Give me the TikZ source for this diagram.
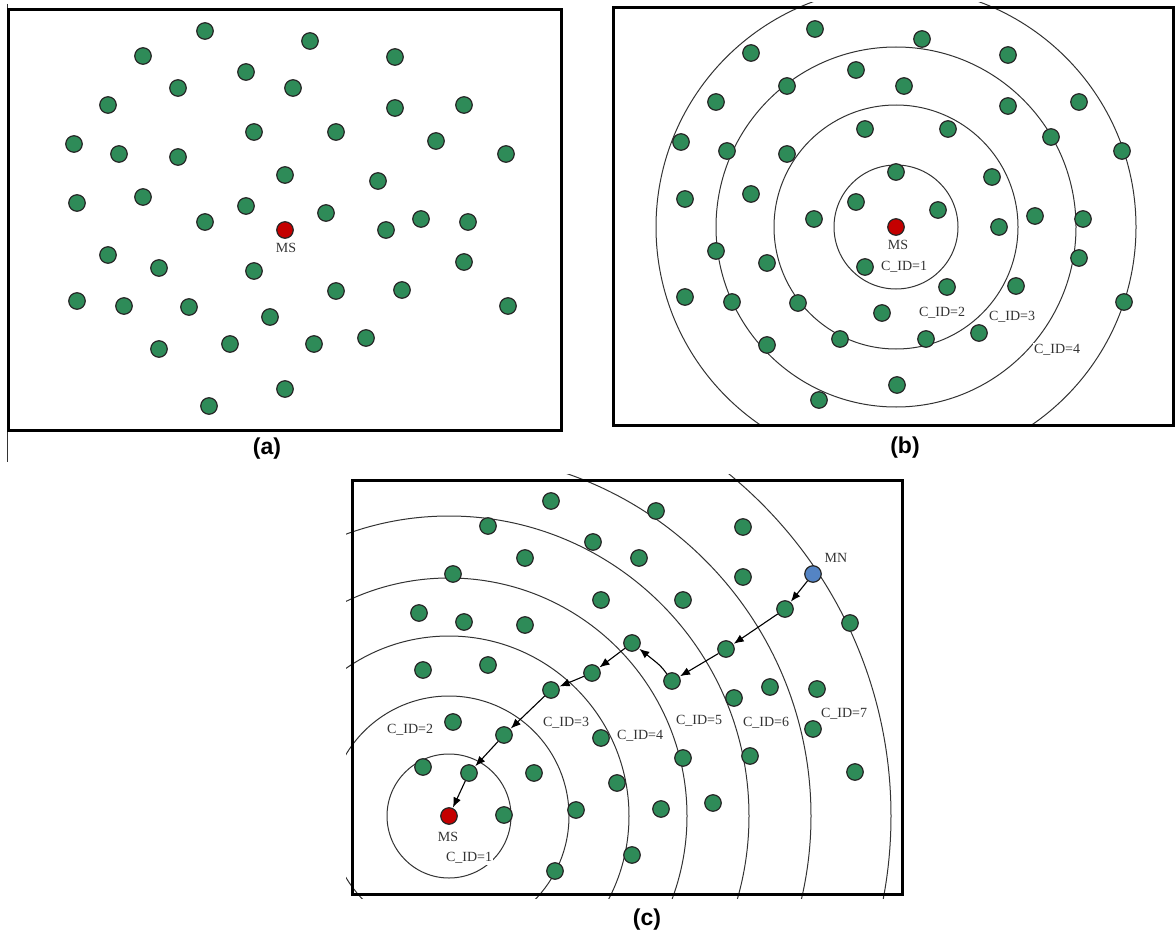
\documentclass[tikz,border=0pt]{standalone}
\usepackage{fontspec}
\setmainfont{Liberation Serif}
\newfontfamily\capfont{Liberation Sans}
\usetikzlibrary{arrows.meta}
\definecolor{sensorgreen}{RGB}{46,139,88}
\definecolor{sinkred}{RGB}{196,0,0}
\definecolor{mobileblue}{RGB}{84,132,196}
\begin{document}
\begin{tikzpicture}[x=1pt,y=-1pt,
  sensor/.style={circle, draw=black!85, line width=1.2pt, fill=sensorgreen,
                 minimum size=16.5pt, inner sep=0pt},
  sink/.style={sensor, fill=sinkred},
  mobile/.style={sensor, fill=mobileblue},
  frame/.style={draw=black, line width=3pt},
  ring/.style={draw=black!80, line width=1pt},
  tag/.style={font=\fontsize{14}{14}\selectfont, text=black!80, inner sep=1pt},
  cid/.style={tag, fill=white},
  caption/.style={font=\capfont\bfseries\fontsize{23}{23}\selectfont, inner sep=0pt},
  hop/.style={-{Latex[length=10pt,width=8pt]}, line width=1.1pt, shorten >=0.5pt},
]
\useasboundingbox (0,0) rectangle (1176,934);

% ---------------- panel (a): random deployment ----------------
\draw[line width=1pt, black!80] (7,4) -- (7,462);
\draw[frame] (8,10) rectangle (561,430);
\foreach \x/\y [count=\i] in {205/31,310/41,143/56,395/57,246/72,178/88,293/88,
    108/105,395/108,464/105,254/132,336/132,436/141,74/144,119/154,178/157,
    506/154,285/175,378/181,77/203,143/197,246/206,205/222,326/213,421/219,
    468/222,386/230,108/255,159/268,254/271,464/262,77/301,124/306,189/307,
    336/291,402/290,508/306,270/317,159/349,230/344,314/344,366/338,285/389,209/406}
  \node[sensor] (a\i) at (\x,\y) {};
\node[sink] (msa) at (285,230) {};
\node[tag] (msalab) at (286,248) {MS};
\node[caption] (capa) at (267,449) {(a)};

% ---------------- panel (b): clusters around the sink ----------------
\coordinate (ctrb) at (896,227);
\begin{scope}
  \clip (609,3) rectangle (1177,425);
  \foreach \r in {62,122,180,240}
    \draw[ring] (ctrb) circle[radius=\r];
\end{scope}
\draw[frame] (613,8) rectangle (1173,425);
\node[cid] (b1lab) at (904,267) {C\_ID=1};
\node[cid] (b2lab) at (942,313) {C\_ID=2};
\node[cid] (b3lab) at (1012,317) {C\_ID=3};
\node[cid] (b4lab) at (1057,350) {C\_ID=4};
\foreach \x/\y [count=\i] in {815/29,922/39,751/53,1008/55,856/70,787/86,904/86,
    716/102,1008/106,1079/102,865/129,948/129,681/142,727/151,787/154,1051/137,
    1122/151,896/172,992/177,685/199,751/194,856/202,938/210,814/219,1035/216,
    1083/219,999/227,716/251,767/263,865/267,1079/258,947/287,1016/286,685/297,
    732/302,798/303,1124/302,882/313,979/333,767/345,840/339,926/339,897/385,819/400}
  \node[sensor] (b\i) at (\x,\y) {};
\node[sink] (msb) at (ctrb) {};
\node[tag] (msblab) at (898,245) {MS};
\node[caption] (capb) at (905,448) {(b)};

% ---------------- panel (c): multi-hop route from MN to MS ----------------
\coordinate (ctrc) at (449,816);
\begin{scope}
  \clip (346,474) rectangle (905,898);
  \foreach \r in {62,120,180,238,300,362,442}
    \draw[ring] (ctrc) circle[radius=\r];
\end{scope}
\draw[frame] (352,480) rectangle (902,894);
\node[cid] (c1lab) at (469,858) {C\_ID=1};
\node[cid] (c2lab) at (410,730) {C\_ID=2};
\node[cid] (c3lab) at (566,723) {C\_ID=3};
\node[cid] (c4lab) at (640,736) {C\_ID=4};
\node[cid] (c5lab) at (699,721) {C\_ID=5};
\node[cid] (c6lab) at (766,723) {C\_ID=6};
\node[cid] (c7lab) at (844,714) {C\_ID=7};
\foreach \x/\y [count=\i] in {551/501,656/511,488/526,743/527,593/542,525/558,
    639/558,453/574,743/577,601/600,683/600,419/613,464/622,525/625,850/623,
    423/670,488/665,734/698,770/687,817/689,453/722,601/738,813/729,683/758,
    750/756,423/767,534/773,617/783,855/772,504/815,576/810,661/809,713/803,
    632/855,555/871}
  \node[sensor] (c\i) at (\x,\y) {};
% nodes on the forwarding path
\node[mobile] (mn) at (813,574) {};
\node[sensor] (p1) at (785,609) {};
\node[sensor] (p2) at (726,649) {};
\node[sensor] (p3) at (672,681) {};
\node[sensor] (p4) at (632,643) {};
\node[sensor] (p5) at (592,673) {};
\node[sensor] (p6) at (551,690) {};
\node[sensor] (p7) at (504,735) {};
\node[sensor] (p8) at (469,773) {};
\node[sink] (msc) at (ctrc) {};
\node[tag] (mnlab) at (836,558) {MN};
\node[tag] (msclab) at (448,837) {MS};
\node[caption] (capc) at (647,920) {(c)};

\draw[hop] (mn) -- (p1);
\draw[hop] (p1) -- (p2);
\draw[hop] (p2) -- (p3);
\draw[hop] (p3) .. controls (661,666) .. (p4);
\draw[hop] (p4) -- (p5);
\draw[hop] (p5) -- (p6);
\draw[hop] (p6) -- (p7);
\draw[hop] (p7) -- (p8);
\draw[hop] (p8) -- (msc);
\end{tikzpicture}
\end{document}
